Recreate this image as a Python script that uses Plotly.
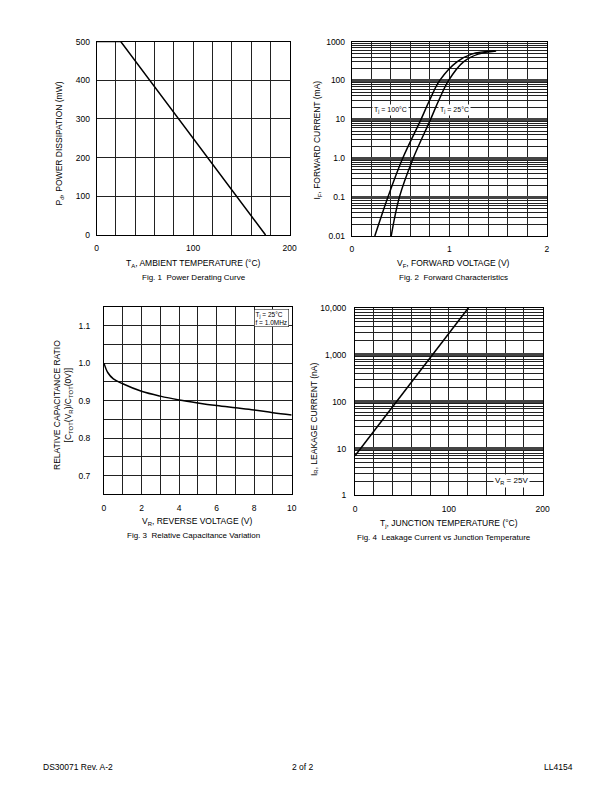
import plotly.graph_objects as go

W, H = 612, 792

# ---------------- data ----------------
# Fig. 1 Power derating
fig1_temp = [0, 25, 175]
fig1_pd = [500, 500, 0]

# Fig. 2 Forward characteristics
fig2_vf_100 = [0.236, 0.37, 0.522, 0.71, 0.795, 0.902, 1.078, 1.229, 1.465]
fig2_if_100 = [0.01, 0.1, 1, 10, 30, 100, 300, 475, 577]
fig2_vf_25 = [0.404, 0.488, 0.63, 0.808, 0.89, 0.993, 1.145, 1.296, 1.48]
fig2_if_25 = [0.01, 0.1, 1, 10, 30, 100, 300, 475, 570]
fig2_yticks = [0.01, 0.1, 1, 10, 100, 1000]
fig2_yticktext = ["0.01", "0.1", "1.0", "10", "100", "1000"]

# Fig. 3 Relative capacitance
fig3_vr = [0, 0.2, 0.5, 1, 2, 3, 4, 5, 6, 7, 8, 9, 10]
fig3_ratio = [1.0, 0.975, 0.958, 0.945, 0.925, 0.912, 0.902, 0.894, 0.887, 0.881, 0.875, 0.868, 0.862]
fig3_yticks = [0.7, 0.8, 0.9, 1.0, 1.1]
fig3_yticktext = ["0.7", "0.8", "0.9", "1.0", "1.1"]

# Fig. 4 Leakage current
fig4_tj = [0, 121]
fig4_ir = [7, 10000]
fig4_yticks = [1, 10, 100, 1000, 10000]
fig4_yticktext = ["1", "10", "100", "1,000", "10,000"]

FONT = "Liberation Sans, Arial, sans-serif"


def px(x, y):
    return x / W, 1 - y / H


def dom_x(a, b):
    return [a / W, b / W]


def dom_y(top, bottom):
    return [1 - bottom / H, 1 - top / H]


base = dict(showline=True, linecolor="black", linewidth=1, mirror=True,
            showgrid=True, gridcolor="#222", gridwidth=1, zeroline=False,
            ticks="outside", ticklen=5, tickcolor="rgba(0,0,0,0)",
            tickfont=dict(size=8.5, color="black", family=FONT))

fig = go.Figure()
line = dict(color="black", width=1.5)
spline = dict(color="black", width=1.5, shape="spline")
fig.add_trace(go.Scatter(x=fig1_temp, y=fig1_pd, mode="lines", line=line, xaxis="x", yaxis="y"))
fig.add_trace(go.Scatter(x=fig2_vf_100, y=fig2_if_100, mode="lines", line=spline, xaxis="x2", yaxis="y2"))
fig.add_trace(go.Scatter(x=fig2_vf_25, y=fig2_if_25, mode="lines", line=spline, xaxis="x2", yaxis="y2"))
fig.add_trace(go.Scatter(x=fig3_vr, y=fig3_ratio, mode="lines", line=spline, xaxis="x3", yaxis="y3"))
fig.add_trace(go.Scatter(x=fig4_tj, y=fig4_ir, mode="lines", line=line, xaxis="x4", yaxis="y4"))

logminor = dict(dtick="D1", showgrid=True, gridcolor="#222", gridwidth=1, ticks="")

fig.update_layout(
    width=W, height=H, margin=dict(l=0, r=0, t=0, b=0),
    paper_bgcolor="white", plot_bgcolor="white", showlegend=False,
    font=dict(family=FONT, color="black", size=8.5),
    xaxis=dict(base, domain=dom_x(96, 292), range=[0, 200], dtick=100, anchor="y",
               minor=dict(dtick=20, showgrid=True, gridcolor="#222", gridwidth=1, ticks="")),
    yaxis=dict(base, domain=dom_y(37, 233), range=[0, 500], dtick=100, anchor="x", ticklen=4),
    xaxis2=dict(base, domain=dom_x(355, 553), range=[0, 2], dtick=1, anchor="y2",
                minor=dict(dtick=0.2, showgrid=True, gridcolor="#222", gridwidth=1, ticks="")),
    yaxis2=dict(base, domain=dom_y(37, 234), type="log", range=[-2, 3], anchor="x2",
                tickvals=fig2_yticks, ticktext=fig2_yticktext, gridwidth=2.5, gridcolor="#444",
                ticklen=4, minor=logminor),
    xaxis3=dict(base, domain=dom_x(103.5, 294), range=[0, 10], dtick=2, anchor="y3",
                minor=dict(dtick=1, showgrid=True, gridcolor="#222", gridwidth=1, ticks="")),
    yaxis3=dict(base, domain=dom_y(305.7, 495.7), range=[0.65, 1.15], anchor="x3",
                tickvals=fig3_yticks, ticktext=fig3_yticktext, ticklen=11,
                minor=dict(dtick=0.05, tick0=0.65, showgrid=True, gridcolor="#222", gridwidth=1, ticks="")),
    xaxis4=dict(base, domain=dom_x(358.3, 548.7), range=[0, 200], dtick=100, anchor="y4",
                minor=dict(dtick=20, showgrid=True, gridcolor="#222", gridwidth=1, ticks="")),
    yaxis4=dict(base, domain=dom_y(306.7, 496.7), type="log", range=[0, 4], anchor="x4",
                tickvals=fig4_yticks, ticktext=fig4_yticktext, gridwidth=2.5, gridcolor="#444",
                ticklen=6, minor=logminor),
)

ann = []


def text(x, y, s, size=8.5, angle=0, xanchor="center", yanchor="middle", **kw):
    ax, ay = px(x, y)
    d = dict(x=ax, y=ay, xref="paper", yref="paper", text=s, showarrow=False,
             font=dict(size=size, color="black", family=FONT), textangle=angle,
             xanchor=xanchor, yanchor=yanchor)
    d.update(kw)
    ann.append(d)


# Fig 1
text(58, 140, "P<sub>d</sub>, POWER DISSIPATION (mW)", angle=-90)
text(194, 262, "T<sub>A</sub>, AMBIENT TEMPERATURE (°C)")
text(195, 276, "Fig. 1  Power Derating Curve", size=8)
# Fig 2
text(320, 137, "I<sub>F</sub>, FORWARD CURRENT (mA)", angle=-90)
text(458, 262, "V<sub>F</sub>, FORWARD VOLTAGE (V)")
text(458, 276, "Fig. 2  Forward Characteristics", size=8)
ann.append(dict(x=0.40, y=1.23, xref="x2", yref="y2", text="T<sub>j</sub> = 100°C", showarrow=False,
                font=dict(size=7, color="black", family=FONT), bgcolor="white", borderpad=1))
ann.append(dict(x=1.05, y=1.23, xref="x2", yref="y2", text="T<sub>j</sub> = 25°C", showarrow=False,
                font=dict(size=7, color="black", family=FONT), bgcolor="white", borderpad=1))
# Fig 3
text(62, 405, "RELATIVE CAPACITANCE RATIO<br>[C<sub>TOT</sub>(V<sub>R</sub>)/C<sub>TOT</sub>(0V)]", angle=-90)
text(198, 523, "V<sub>R</sub>, REVERSE VOLTAGE (V)")
text(194, 537, "Fig. 3  Relative Capacitance Variation", size=8)
ann.append(dict(x=9.85, y=1.145, xref="x3", yref="y3", text="T<sub>j</sub> = 25°C<br>f = 1.0MHz",
                showarrow=False, align="left", xanchor="right", yanchor="top",
                font=dict(size=6.5, color="black", family=FONT), bgcolor="white",
                bordercolor="black", borderwidth=0.5, borderpad=1))
# Fig 4
text(317, 420, "I<sub>R</sub>, LEAKAGE CURRENT (nA)", angle=-90)
text(454, 525, "T<sub>j</sub>, JUNCTION TEMPERATURE (°C)")
text(449, 539, "Fig. 4  Leakage Current vs Junction Temperature", size=8)
ann.append(dict(x=167, y=0.30, xref="x4", yref="y4", text="V<sub>R</sub> = 25V", showarrow=False,
                font=dict(size=8, color="black", family=FONT), bgcolor="white", borderpad=1))
# Footer
text(40, 772, "DS30071 Rev. A-2", size=8.5, xanchor="left")
text(305, 772, "2 of 2", size=8.5)
text(582, 772, "LL4154", size=8.5, xanchor="right")

fig.update_layout(annotations=ann)

post = "document.body.style.margin='0';document.body.style.overflow='hidden';"
fig.write_html("out.html", config={"displayModeBar": False}, post_script=post)
